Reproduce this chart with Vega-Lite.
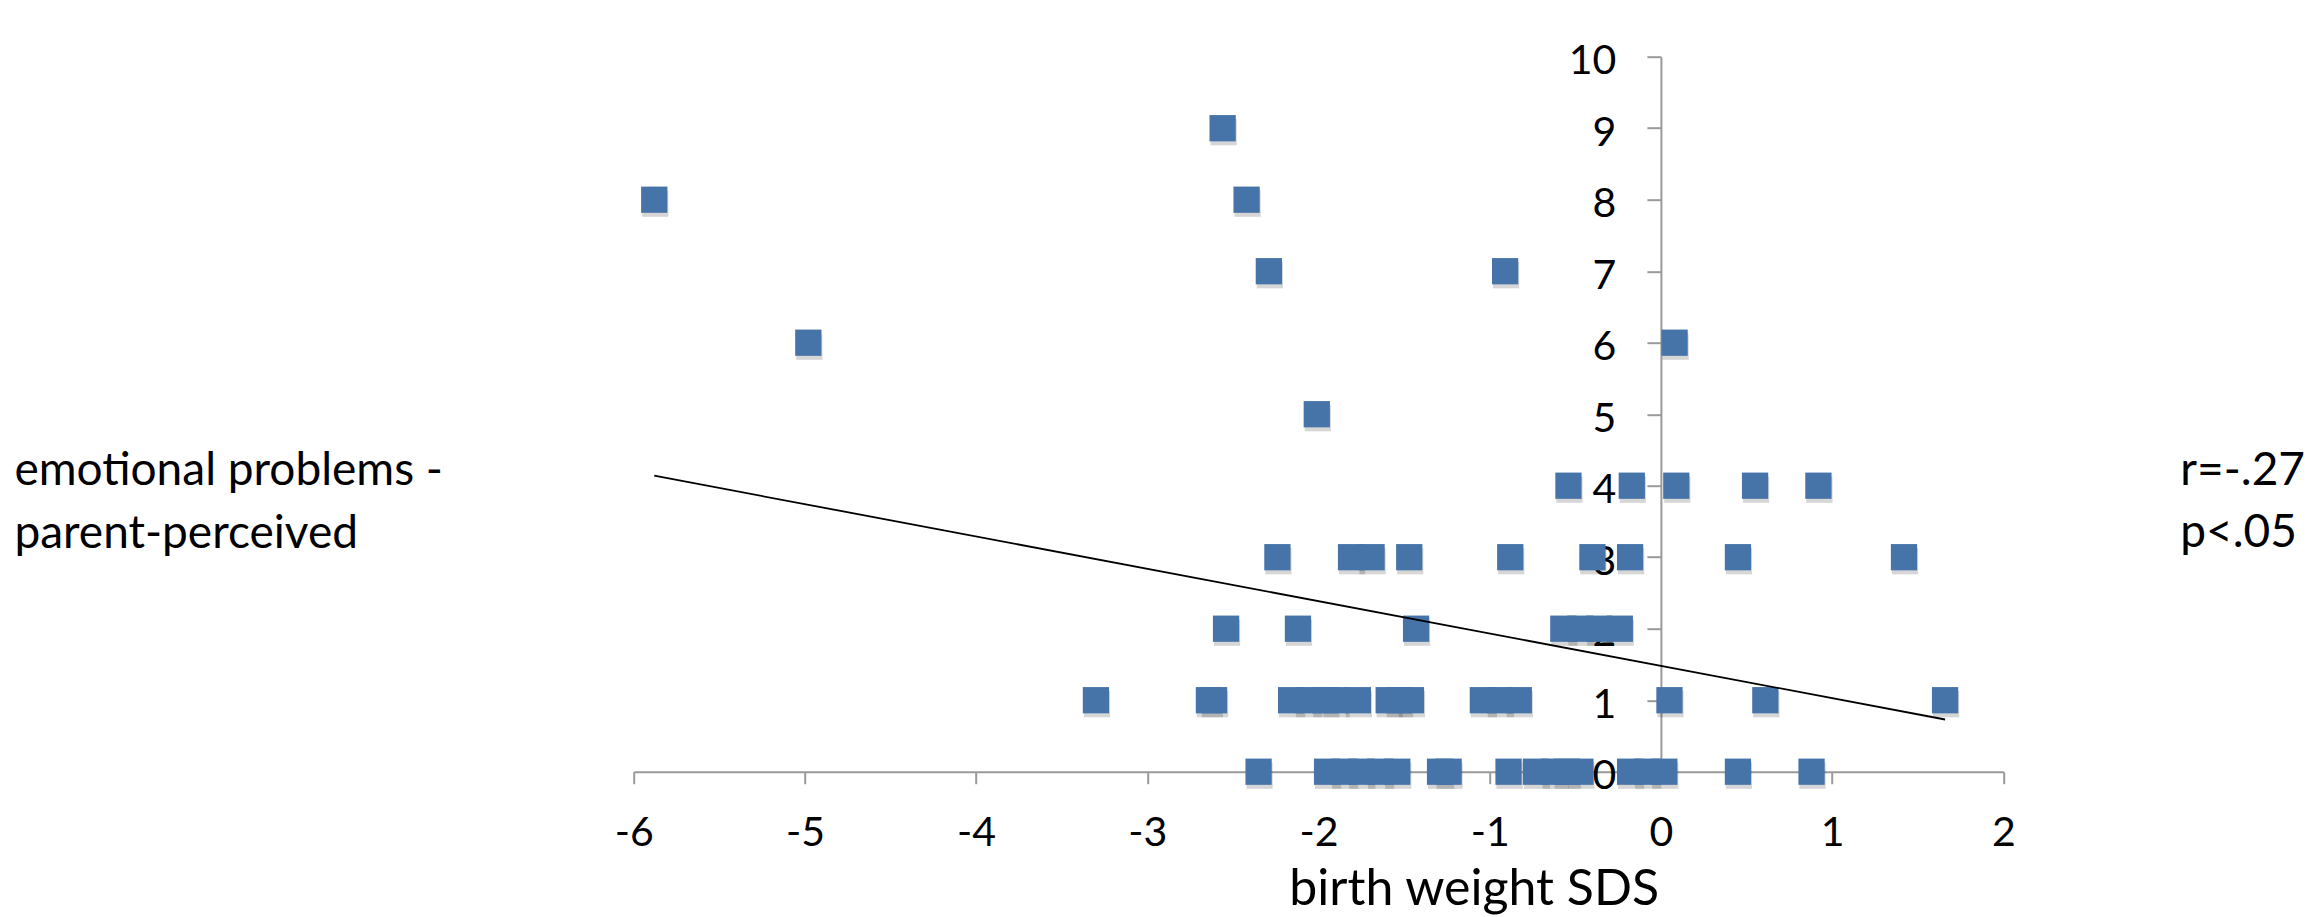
{
  "$schema": "https://vega.github.io/schema/vega-lite/v6.json",
  "autosize": {"type": "none"},
  "width": 1369.6,
  "height": 715,
  "padding": {"left": 633.7, "top": 56.7, "right": 303.7, "bottom": 145.3},
  "background": "white",
  "config": {
    "view": {"stroke": null},
    "font": "Lato",
    "axis": {"grid": false, "zindex": 1}
  },
  "title": {
    "text": ["r=-.27", "p<.05"],
    "anchor": "end",
    "align": "left",
    "frame": "group",
    "baseline": "alphabetic",
    "dx": 177,
    "dy": 556,
    "font": "Lato",
    "fontSize": 46,
    "fontWeight": "normal",
    "color": "black",
    "lineHeight": 62
  },
  "datasets": {
    "points": [
      {"sds": -2.56, "score": 9},
      {"sds": -5.88, "score": 8}, {"sds": -2.42, "score": 8},
      {"sds": -2.29, "score": 7}, {"sds": -0.91, "score": 7},
      {"sds": -4.98, "score": 6}, {"sds": 0.08, "score": 6},
      {"sds": -2.01, "score": 5},
      {"sds": -0.54, "score": 4}, {"sds": -0.17, "score": 4}, {"sds": 0.09, "score": 4}, {"sds": 0.55, "score": 4}, {"sds": 0.92, "score": 4},
      {"sds": -2.24, "score": 3}, {"sds": -1.81, "score": 3}, {"sds": -1.69, "score": 3}, {"sds": -1.47, "score": 3}, {"sds": -0.88, "score": 3}, {"sds": -0.40, "score": 3}, {"sds": -0.18, "score": 3}, {"sds": 0.45, "score": 3}, {"sds": 1.42, "score": 3},
      {"sds": -2.54, "score": 2}, {"sds": -2.12, "score": 2}, {"sds": -1.43, "score": 2}, {"sds": -0.57, "score": 2}, {"sds": -0.47, "score": 2}, {"sds": -0.36, "score": 2}, {"sds": -0.24, "score": 2},
      {"sds": -3.30, "score": 1}, {"sds": -2.64, "score": 1}, {"sds": -2.61, "score": 1}, {"sds": -2.16, "score": 1}, {"sds": -2.06, "score": 1}, {"sds": -1.96, "score": 1}, {"sds": -1.90, "score": 1}, {"sds": -1.77, "score": 1}, {"sds": -1.59, "score": 1}, {"sds": -1.53, "score": 1}, {"sds": -1.46, "score": 1}, {"sds": -1.04, "score": 1}, {"sds": -0.94, "score": 1}, {"sds": -0.83, "score": 1}, {"sds": 0.05, "score": 1}, {"sds": 0.61, "score": 1}, {"sds": 1.66, "score": 1},
      {"sds": -2.35, "score": 0}, {"sds": -1.95, "score": 0}, {"sds": -1.85, "score": 0}, {"sds": -1.75, "score": 0}, {"sds": -1.64, "score": 0}, {"sds": -1.54, "score": 0}, {"sds": -1.29, "score": 0}, {"sds": -1.24, "score": 0}, {"sds": -0.89, "score": 0}, {"sds": -0.73, "score": 0}, {"sds": -0.62, "score": 0}, {"sds": -0.55, "score": 0}, {"sds": -0.47, "score": 0}, {"sds": -0.18, "score": 0}, {"sds": -0.08, "score": 0}, {"sds": 0.02, "score": 0}, {"sds": 0.45, "score": 0}, {"sds": 0.88, "score": 0}
    ],
    "trend": [
      {"sds": -5.88, "score": 4.14},
      {"sds": 1.66, "score": 0.73}
    ]
  },
  "encoding": {
    "x": {
      "field": "sds",
      "type": "quantitative",
      "scale": {"domain": [-6, 2], "nice": false, "zero": false},
      "axis": {
        "values": [-6, -5, -4, -3, -2, -1, 0, 1, 2],
        "labelExpr": "'' + datum.value",
        "title": "birth weight SDS",
        "titleFont": "Lato",
        "titleFontSize": 50,
        "titleFontWeight": "normal",
        "titleColor": "black",
        "titleAlign": "center",
        "titleBaseline": "alphabetic",
        "titleX": 840,
        "titleY": 133,
        "domainColor": "#9a9a9a",
        "domainWidth": 2,
        "tickColor": "#9a9a9a",
        "tickWidth": 2,
        "tickSize": 12,
        "labelFontSize": 41,
        "labelColor": "black",
        "labelPadding": 30,
        "labelFlush": false,
        "labelOverlap": false
      }
    },
    "y": {
      "field": "score",
      "type": "quantitative",
      "scale": {"domain": [0, 10], "nice": false},
      "axis": {
        "orient": "left",
        "offset": -1027.2,
        "values": [0, 1, 2, 3, 4, 5, 6, 7, 8, 9, 10],
        "labelExpr": "'' + datum.value",
        "title": ["emotional problems -", "parent-perceived"],
        "titleFont": "Lato",
        "titleFontSize": 46,
        "titleFontWeight": "normal",
        "titleColor": "black",
        "titleAngle": 0,
        "titleAlign": "left",
        "titleBaseline": "alphabetic",
        "titleX": -1647,
        "titleY": 428,
        "titleLineHeight": 63,
        "domainColor": "#9a9a9a",
        "domainWidth": 2,
        "tickColor": "#9a9a9a",
        "tickWidth": 2,
        "tickSize": 14,
        "labelFontSize": 41,
        "labelColor": "black",
        "labelPadding": 31,
        "labelOffset": 5,
        "labelFlush": false,
        "labelOverlap": false
      }
    }
  },
  "layer": [
    {
      "data": {"name": "points"},
      "mark": {"type": "point", "shape": "square", "filled": true, "size": 690, "color": "#000000", "opacity": 0.16, "xOffset": 1, "yOffset": 4}
    },
    {
      "data": {"name": "points"},
      "mark": {"type": "point", "shape": "square", "filled": true, "size": 690, "color": "#4674a8", "opacity": 1}
    },
    {
      "data": {"name": "trend"},
      "mark": {"type": "line", "color": "black", "strokeWidth": 1.8}
    }
  ]
}
